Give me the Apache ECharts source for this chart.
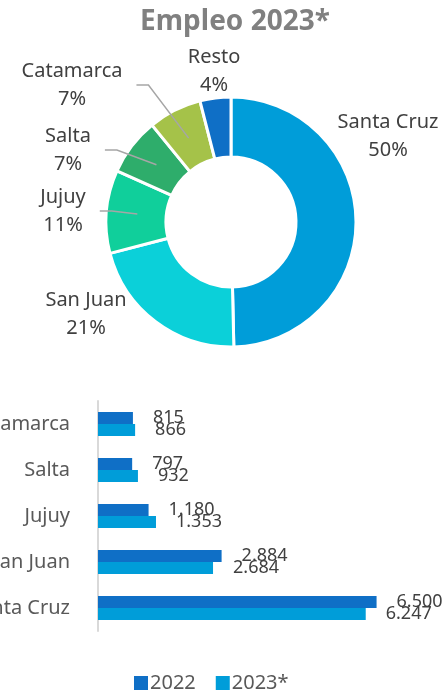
<!DOCTYPE html>
<html>
<head>
<meta charset="utf-8">
<script src="https://cdn.jsdelivr.net/npm/echarts@6/dist/echarts.min.js"></script>
<style>
  html, body { margin: 0; padding: 0; background: #fff; }
  #chart { width: 444px; height: 690px; }
</style>
</head>
<body>
<div id="chart"></div>
<script>
// datos
var pieNames = ["Santa Cruz", "San Juan", "Jujuy", "Salta", "Catamarca", "Resto"]
var pieValues = [6247, 2684, 1353, 932, 866, 503]
var pieColors = ["#009DD9", "#0BD0D9", "#10CF9B", "#2EAD6B", "#A5C249", "#0F6FC6"]

var provincias = ["Catamarca", "Salta", "Jujuy", "San Juan", "Santa Cruz"]
var empleo2022 = [815, 797, 1180, 2884, 6500]
var empleo2023 = [866, 932, 1353, 2684, 6247]

// posiciones de las etiquetas de la torta (centro del texto)
var pieLabelPos = [[388, 136], [86, 314], [63, 211], [68, 150], [72, 85], [214, 71]]
var withLine = [false, false, true, true, true, false]

var pieCenter = [231, 222]
var pieTotal = pieValues.reduce(function (a, b) { return a + b }, 0)

function miles(v) {
  return String(v).replace(/\B(?=(\d{3})+(?!\d))/g, ".")
}

// punto dentro de la porcion (angulo medio) para la linea guia
function puntoMedio(idx, r) {
  var acc = 0
  for (var i = 0; i < idx; i++) acc += pieValues[i]
  var frac = (acc + pieValues[idx] / 2) / pieTotal
  var ang = (90 - 360 * frac) * Math.PI / 180
  return [pieCenter[0] + r * Math.cos(ang), pieCenter[1] - r * Math.sin(ang)]
}

var myChart = echarts.init(document.getElementById("chart"))

var pieData = pieNames.map(function (n, i) {
  return {
    name: n,
    value: pieValues[i],
    itemStyle: { color: pieColors[i] },
  }
})

// copia transparente que solo dibuja etiquetas y lineas (queda encima)
var pieLabels = pieNames.map(function (n, i) {
  return {
    name: n,
    value: pieValues[i],
    labelLine: { show: withLine[i] },
  }
})

myChart.setOption({
  animation: false,
  textStyle: { fontFamily: "Noto Sans" },
  title: {
    text: "Empleo 2023*",
    left: 230,
    textAlign: "center",
    top: 3,
    textStyle: { fontSize: 28, fontWeight: "bold", color: "#808080", fontFamily: "Noto Sans" },
  },
  legend: {
    data: ["2022", "2023*"],
    left: 129,
    top: 668,
    itemWidth: 14,
    itemHeight: 14,
    itemGap: 20,
    icon: "rect",
    textStyle: { fontSize: 20, color: "#595959", padding: [0, 0, 0, -3] },
  },
  grid: {
    left: 98,
    top: 401,
    width: 300,
    height: 230,
    containLabel: false,
    outerBoundsMode: "none",
  },
  xAxis: {
    type: "value",
    min: 0,
    max: 7000,
    show: false,
  },
  yAxis: {
    type: "category",
    data: provincias,
    inverse: true,
    axisTick: { show: false },
    axisLine: { lineStyle: { color: "#d9d9d9", width: 2 } },
    axisLabel: { fontSize: 20, color: "#595959", margin: 28 },
  },
  series: [
    {
      type: "pie",
      center: pieCenter,
      radius: [65, 125],
      startAngle: 90,
      z: 2,
      itemStyle: { borderColor: "#fff", borderWidth: 3 },
      label: { show: false },
      labelLine: { show: false },
      data: pieData,
    },
    {
      type: "pie",
      center: pieCenter,
      radius: [65, 125],
      startAngle: 90,
      z: 3,
      silent: true,
      percentPrecision: 0,
      itemStyle: { color: "rgba(0,0,0,0)", borderWidth: 0 },
      label: {
        formatter: "{b}\n{d}%",
        fontSize: 20,
        lineHeight: 28,
        color: "#404040",
        overflow: "none",
        align: "center",
      },
      labelLine: { lineStyle: { color: "#a6a6a6", width: 1.5 } },
      labelLayout: function (params) {
        var i = params.dataIndex
        var p = pieLabelPos[i]
        var out = { x: p[0], y: p[1], align: "center", verticalAlign: "middle" }
        if (withLine[i]) {
          var w = params.labelRect.width
          var x0 = p[0] + w / 2 + 14
          out.labelLinePoints = [[x0, p[1]], [x0 + 12, p[1]], puntoMedio(i, 94)]
        }
        return out
      },
      data: pieLabels,
    },
    {
      name: "2022",
      type: "bar",
      data: empleo2022,
      barWidth: 12,
      barGap: "0%",
      itemStyle: { color: "#0F6FC6" },
      label: {
        show: true,
        position: "right",
        distance: 20,
        fontSize: 18,
        color: "#404040",
        formatter: function (p) { return miles(p.value) },
      },
    },
    {
      name: "2023*",
      type: "bar",
      data: empleo2023,
      barWidth: 12,
      barGap: "0%",
      itemStyle: { color: "#009DD9" },
      label: {
        show: true,
        position: "right",
        distance: 20,
        fontSize: 18,
        color: "#404040",
        formatter: function (p) { return miles(p.value) },
      },
    },
  ],
})

window.addEventListener("resize", function () {
  myChart.resize()
})
</script>
</body>
</html>
